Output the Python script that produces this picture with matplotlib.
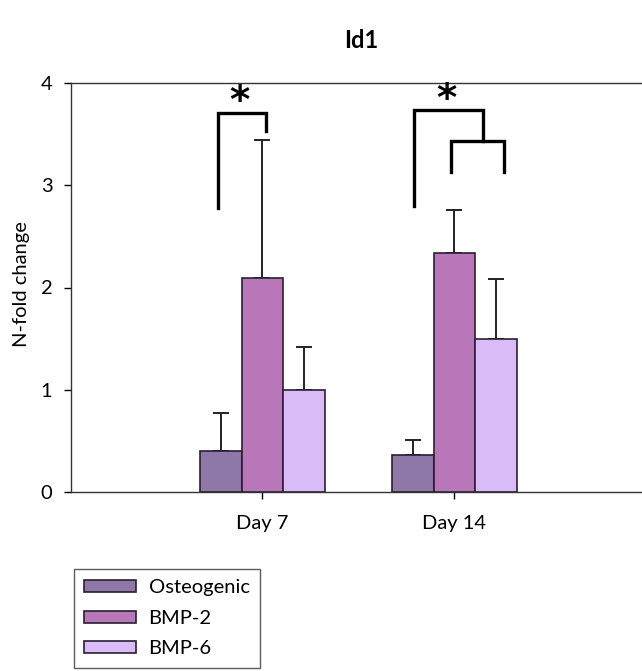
import matplotlib
matplotlib.use("Agg")
import matplotlib.pyplot as plt
import numpy as np

plt.rcParams['font.family'] = ['Lato', 'DejaVu Sans']

# ---- data ----
categories = ["Day 7", "Day 14"]
series_names = ["Osteogenic", "BMP-2", "BMP-6"]
osteogenic = [0.40, 0.36]
bmp2 = [2.09, 2.34]
bmp6 = [1.00, 1.50]
osteogenic_err = [0.37, 0.15]
bmp2_err = [1.35, 0.42]
bmp6_err = [0.42, 0.58]
colors = ["#8e78a8", "#b877b8", "#d9bbf8"]
yticks = [0, 1, 2, 3, 4]
title = "Id1"
ylabel = "N-fold change"

# significance brackets (data coords): (x_left, y_left_bottom, x_right, y_right_bottom, y_top)
brackets = [
    (0.767, 2.78, 1.021, 3.53, 3.70),
    (1.788, 2.80, 2.149, 3.43, 3.73),
    (1.983, 3.13, 2.257, 3.13, 3.43),
]
stars = [(0.882, 3.81), (1.958, 3.83)]

W, H = 642, 671
fig = plt.figure(figsize=(W / 100, H / 100), dpi=100)
ax_left, ax_right = 70.5 / W, 654 / W
ax_bottom, ax_top = 1 - 492.3 / H, 1 - 82.7 / H
ax = fig.add_axes([ax_left, ax_bottom, ax_right - ax_left, ax_top - ax_bottom])

x = np.arange(1, len(categories) + 1)
width = 0.217
values = [osteogenic, bmp2, bmp6]
errs = [osteogenic_err, bmp2_err, bmp6_err]
handles = []
for i, (vals, er, c, name) in enumerate(zip(values, errs, colors, series_names)):
    pos = x + (i - 1) * width
    b = ax.bar(pos, vals, width, color=c, edgecolor="#2a1f30", linewidth=1.2,
               label=name, zorder=3)
    ax.errorbar(pos, vals, yerr=[np.zeros(len(vals)), er], fmt="none",
                ecolor="#222222", elinewidth=1.4, capsize=6, capthick=1.4, zorder=2)
    handles.append(b)

for (xl, yl, xr, yr, yt) in brackets:
    ax.plot([xl, xl, xr, xr], [yl, yt, yt, yr], color="black", lw=2.4,
            solid_joinstyle="miter", zorder=4, clip_on=False)
for (sx, sy) in stars:
    ax.text(sx, sy, "*", ha="center", va="center", fontsize=28,
            fontweight="bold", color="black", family="DejaVu Sans")

ax.set_xlim(0, 3.04)
ax.set_ylim(0, 4)
ax.set_yticks(yticks)
ax.set_yticklabels([str(t) for t in yticks], fontsize=14.5)
ax.set_xticks(x)
ax.set_xticklabels(categories, fontsize=14.5)
ax.tick_params(axis="y", direction="out", length=5, width=1, pad=8)
ax.tick_params(axis="x", direction="out", length=5, width=1, pad=11)
for s in ["left", "top", "bottom"]:
    ax.spines[s].set_linewidth(1.0)
    ax.spines[s].set_color("#333333")
ax.spines["right"].set_visible(False)

fig.text(22 / W, 1 - 284 / H, ylabel, rotation=90, ha="center", va="center", fontsize=14.5)
fig.text(361 / W, 1 - 40 / H, title, ha="center", va="center", fontsize=17, fontweight="bold")

leg = fig.legend(handles=handles, labels=series_names, loc="upper left",
                 bbox_to_anchor=(74 / W, 1 - 569 / H), fontsize=14.5,
                 frameon=True, fancybox=False, edgecolor="#333333",
                 handlelength=2.6, handleheight=0.55, handletextpad=0.6,
                 labelspacing=0.68, borderpad=0.5, borderaxespad=0)
leg.get_frame().set_linewidth(1.0)

fig.savefig("out.png", dpi=100)
